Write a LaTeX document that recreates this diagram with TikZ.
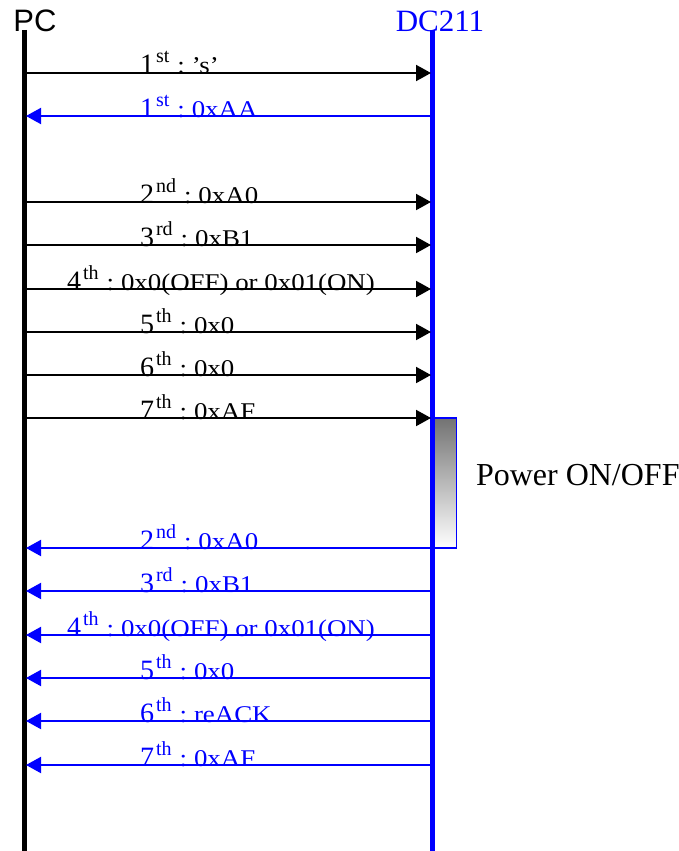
\documentclass[tikz,border=0pt]{standalone}
\usepackage{fontspec}
\setmainfont{Liberation Serif}
\newfontfamily\sansf{Liberation Sans}
\newfontfamily\lblf[FakeStretch=1.12]{Liberation Serif}
\usetikzlibrary{arrows.meta}
\newcommand\ordlab[3]{{\fontsize{28}{28}\selectfont #1}\hspace{2pt}\raisebox{11pt}{\fontsize{20}{20}\selectfont #2}{\lblf\fontsize{24}{24}\selectfont\hspace{8pt}:\hspace{7pt}#3}}
\tikzset{
  lifeline/.style={line width=5pt},
  msg/.style={line width=2pt, -{Triangle[length=15pt,width=16pt]}},
  lbl/.style={anchor=base west, inner sep=0pt, outer sep=0pt},
}
\begin{document}
\begin{tikzpicture}[x=1pt,y=-1pt]
\useasboundingbox (0,0) rectangle (679,851);
% power box
\shade[top color=black!55, bottom color=white, draw=blue, line width=1.2pt] (432,418) rectangle (456.5,548);
\node[lbl, font=\fontsize{32}{32}\selectfont] (pw) at (476,485) {Power ON/OFF};
% lifelines
\coordinate (pctop) at (24.5,30);
\coordinate (pcbot) at (24.5,851);
\coordinate (dctop) at (432.5,30);
\coordinate (dcbot) at (432.5,851);
\draw[lifeline, black] (pctop) -- (pcbot);
\draw[lifeline, blue] (dctop) -- (dcbot);
\node[anchor=base, inner sep=0pt, font=\sansf\fontsize{31}{31}\selectfont] (pc) at (35,32) {PC};
\node[anchor=base, inner sep=0pt, text=blue, font=\fontsize{31}{31}\selectfont] (dc) at (440,32) {DC211};
% messages PC -> DC211
\foreach \n/\y/\x/\o/\s/\t in {
  a/73/140/1/st/’s’,
  b/202/140/2/nd/0xA0,
  c/245/140/3/rd/0xB1,
  d/289/67/4/th/0x0(OFF) or 0x01(ON),
  e/332/140/5/th/0x0,
  f/375/140/6/th/0x0,
  g/418/140/7/th/0xAF}{
  \coordinate (p\n) at (27,\y);
  \coordinate (d\n) at (431,\y);
  \draw[msg, black] (p\n) -- (d\n);
  \node[lbl] (l\n) at (\x,\y+1) {\ordlab{\o}{\s}{\t}};
}
% messages DC211 -> PC
\foreach \n/\y/\x/\o/\s/\t in {
  A/116/140/1/st/0xAA,
  B/548/140/2/nd/0xA0,
  C/591/140/3/rd/0xB1,
  D/635/67/4/th/0x0(OFF) or 0x01(ON),
  E/678/140/5/th/0x0,
  F/721/140/6/th/reACK,
  G/765/140/7/th/0xAF}{
  \coordinate (p\n) at (26,\y);
  \coordinate (d\n) at (431,\y);
  \draw[msg, blue] (d\n) -- (p\n);
  \node[lbl, text=blue] (l\n) at (\x,\y+1) {\ordlab{\o}{\s}{\t}};
}
\end{tikzpicture}
\end{document}
